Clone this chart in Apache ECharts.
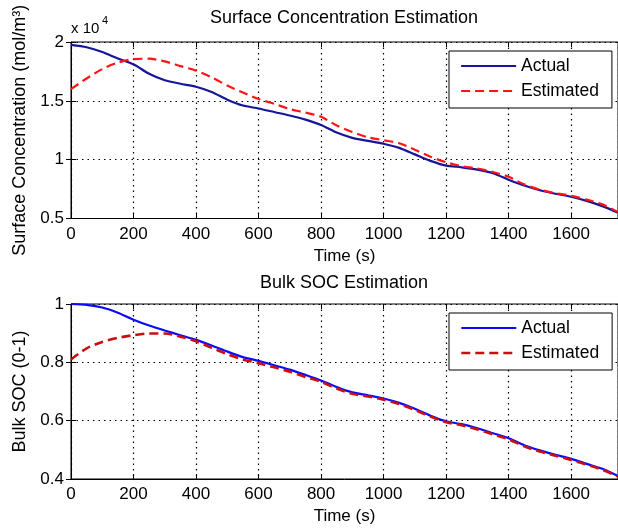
<!DOCTYPE html>
<html>
<head>
<meta charset="utf-8">
<script src="https://cdn.jsdelivr.net/npm/echarts@6/dist/echarts.min.js"></script>
<style>
  html, body { margin: 0; padding: 0; background: #fff; }
  #chart { width: 618px; height: 532px; }
</style>
</head>
<body>
<div id="chart"></div>
<script>
// Sample times (s)
const time = [0, 50, 100, 150, 200, 250, 300, 350, 400, 450, 500, 550, 600, 650, 700, 750, 800, 850,
  900, 950, 1000, 1050, 1100, 1150, 1200, 1250, 1300, 1350, 1400, 1450, 1500, 1550, 1600, 1650, 1700, 1750];

// Surface concentration (x 10^4 mol/m^3)
const surfActual = [1.975, 1.955, 1.915, 1.86, 1.81, 1.73, 1.675, 1.645, 1.62, 1.575, 1.51, 1.46, 1.435, 1.405,
  1.375, 1.34, 1.295, 1.23, 1.185, 1.16, 1.135, 1.10, 1.045, 0.99, 0.95, 0.935, 0.915, 0.885, 0.83, 0.78,
  0.74, 0.71, 0.685, 0.65, 0.605, 0.55];
const surfEstimated = [1.60, 1.69, 1.77, 1.825, 1.855, 1.858, 1.835, 1.795, 1.757, 1.70, 1.63, 1.57, 1.515, 1.475,
  1.43, 1.40, 1.365, 1.29, 1.235, 1.19, 1.165, 1.14, 1.085, 1.025, 0.978, 0.945, 0.925, 0.895, 0.855, 0.79,
  0.745, 0.715, 0.693, 0.66, 0.62, 0.555];

// Bulk state of charge (0-1)
const socActual = [1.0, 0.997, 0.988, 0.97, 0.946, 0.926, 0.909, 0.893, 0.877, 0.858, 0.837, 0.818, 0.805, 0.79,
  0.775, 0.757, 0.738, 0.715, 0.697, 0.687, 0.676, 0.661, 0.641, 0.617, 0.598, 0.588, 0.574, 0.557, 0.54, 0.516,
  0.498, 0.483, 0.469, 0.452, 0.435, 0.41];
const socEstimated = [0.81, 0.848, 0.87, 0.884, 0.893, 0.899, 0.899, 0.888, 0.872, 0.85, 0.828, 0.81, 0.797, 0.783,
  0.768, 0.75, 0.733, 0.71, 0.692, 0.683, 0.672, 0.657, 0.637, 0.614, 0.595, 0.584, 0.57, 0.553, 0.536, 0.512,
  0.494, 0.48, 0.465, 0.449, 0.432, 0.408];

const seriesNames = ['Actual', 'Estimated'];
const titles = ['Surface Concentration Estimation', 'Bulk SOC Estimation'];
const xName = 'Time (s)';
const yNames = ['Surface Concentration (mol/m\u00B3)', 'Bulk SOC (0-1)'];

const FONT = "'Liberation Sans', Arial, sans-serif";
const colors = {
  surfActual: '#16169a', surfEstimated: '#ff1414',
  socActual: '#0a0aff', socEstimated: '#c80e0e'
};
const gridDots = { color: '#000', width: 1.2, type: [1.5, 4] };

const pairs = (ys) => time.map((t, i) => [t, ys[i]]);
const plainNumber = (v) => String(v);

function mainX(gridIndex) {
  return {
    type: 'value', gridIndex, min: 0, max: 1750, interval: 200,
    name: xName, nameLocation: 'middle', nameGap: 29,
    nameTextStyle: { color: '#000', fontFamily: FONT, fontSize: 17 },
    axisLine: { show: true, onZero: false, lineStyle: { color: '#000', width: 1 } },
    axisTick: { show: true, inside: true, length: 5, lineStyle: { color: '#000' } },
    axisLabel: { color: '#000', fontFamily: FONT, fontSize: 17, margin: 7, showMaxLabel: false, formatter: plainNumber },
    splitLine: { show: true, lineStyle: gridDots }
  };
}
function topX(gridIndex) {
  return {
    type: 'value', gridIndex, position: 'top', min: 0, max: 1750, interval: 200,
    axisLine: { show: false },
    axisTick: { show: true, inside: true, length: 5, lineStyle: { color: '#000' } },
    axisLabel: { show: false }, splitLine: { show: false }
  };
}
function mainY(gridIndex, min, max, interval, name) {
  return {
    type: 'value', gridIndex, min, max, interval,
    name, nameLocation: 'middle', nameGap: 38,
    nameTextStyle: { color: '#000', fontFamily: FONT, fontSize: 18 },
    axisLine: { show: true, onZero: false, lineStyle: { color: '#000', width: 1 } },
    axisTick: { show: true, inside: true, length: 5, lineStyle: { color: '#000' } },
    axisLabel: { color: '#000', fontFamily: FONT, fontSize: 17, margin: 7, formatter: plainNumber },
    splitLine: { show: true, lineStyle: gridDots }
  };
}
function rightY(gridIndex, min, max, interval) {
  return {
    type: 'value', gridIndex, position: 'right', min, max, interval,
    axisLine: { show: false },
    axisTick: { show: true, inside: true, length: 5, lineStyle: { color: '#000' } },
    axisLabel: { show: false }, splitLine: { show: false }
  };
}
function legendFor(top, actualColor, estColor, estWidth) {
  return {
    orient: 'vertical', left: 449, top,
    backgroundColor: '#fff', borderColor: '#000', borderWidth: 1, borderRadius: 0,
    padding: [6, 13, 8, 11], itemGap: 7, itemWidth: 55, itemHeight: 17,
    selectedMode: false,
    textStyle: { color: '#000', fontFamily: FONT, fontSize: 17.5 },
    data: [
      { name: seriesNames[0], itemStyle: { opacity: 0 },
        lineStyle: { color: actualColor, width: 2.2, type: 'solid' } },
      { name: seriesNames[1], itemStyle: { opacity: 0 },
        lineStyle: { color: estColor, width: estWidth, type: [9, 5] } }
    ]
  };
}
function lineSeries(name, xi, yi, ys, color, width, dashed) {
  return {
    type: 'line', name, xAxisIndex: xi, yAxisIndex: yi, data: pairs(ys),
    symbol: 'none', smooth: 0.25, clip: true,
    lineStyle: { color, width, type: dashed ? [9, 5] : 'solid' },
    itemStyle: { color }, emphasis: { disabled: true }
  };
}

const chart = echarts.init(document.getElementById('chart'), null, { renderer: 'canvas' });
chart.setOption({
  animation: false,
  backgroundColor: '#fff',
  title: [
    { text: titles[0], left: 344, top: 9, textAlign: 'center', padding: 0,
      textStyle: { color: '#000', fontFamily: FONT, fontSize: 18, fontWeight: 'normal' } },
    { text: titles[1], left: 344, top: 274, textAlign: 'center', padding: 0,
      textStyle: { color: '#000', fontFamily: FONT, fontSize: 18, fontWeight: 'normal' } },
    { text: 'x 10', left: 71, top: 21, padding: 0,
      textStyle: { color: '#000', fontFamily: FONT, fontSize: 15, fontWeight: 'normal' } },
    { text: '4', left: 102, top: 15, padding: 0,
      textStyle: { color: '#000', fontFamily: FONT, fontSize: 11, fontWeight: 'normal' } }
  ],
  grid: [
    { left: 71, top: 42, width: 548, height: 176.5, show: true, borderColor: '#000', borderWidth: 1, backgroundColor: '#fff' },
    { left: 71, top: 304, width: 548, height: 175, show: true, borderColor: '#000', borderWidth: 1, backgroundColor: '#fff' }
  ],
  xAxis: [mainX(0), mainX(1), topX(0), topX(1)],
  yAxis: [
    mainY(0, 0.5, 2, 0.5, yNames[0]),
    mainY(1, 0.4, 1, 0.2, yNames[1]),
    rightY(0, 0.5, 2, 0.5),
    rightY(1, 0.4, 1, 0.2)
  ],
  legend: [
    legendFor(51, colors.surfActual, colors.surfEstimated, 2.2),
    legendFor(313, colors.socActual, colors.socEstimated, 2.6)
  ],
  series: [
    lineSeries(seriesNames[0], 0, 0, surfActual, colors.surfActual, 2.2, false),
    lineSeries(seriesNames[1], 0, 0, surfEstimated, colors.surfEstimated, 2.2, true),
    lineSeries(seriesNames[0], 1, 1, socActual, colors.socActual, 2.2, false),
    lineSeries(seriesNames[1], 1, 1, socEstimated, colors.socEstimated, 2.6, true)
  ]
});
</script>
</body>
</html>
